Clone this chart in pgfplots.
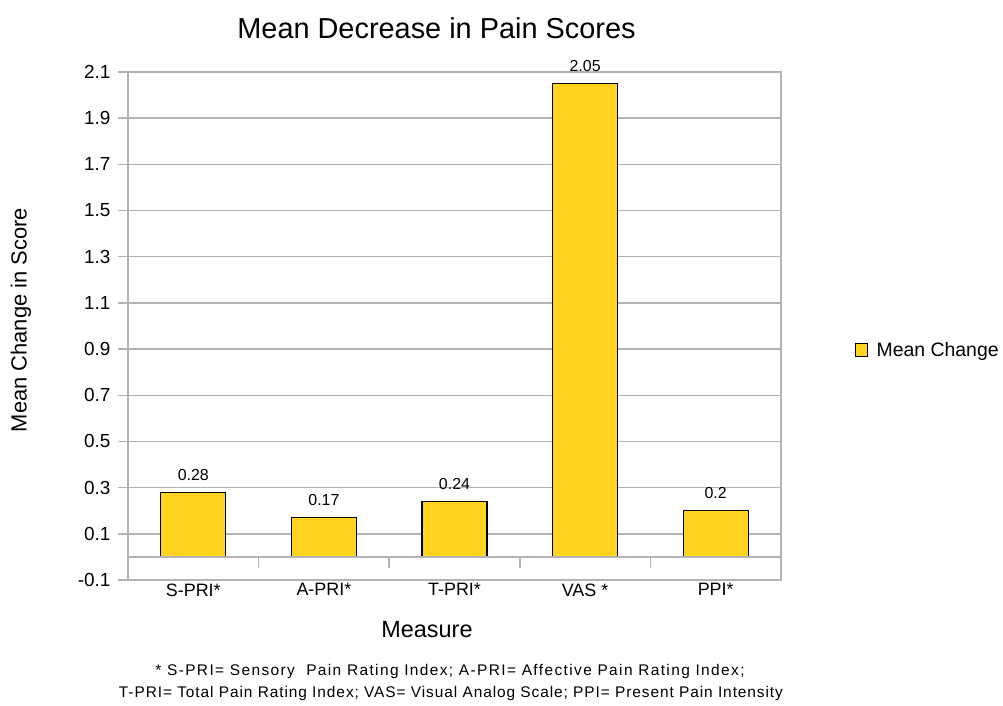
\documentclass[border=0pt]{standalone}
\usepackage{fontspec}
\setmainfont{Liberation Sans}
\usepackage{pgfplots}
\pgfplotsset{compat=1.18}
\definecolor{baryellow}{HTML}{FFD320}
\definecolor{gridgray}{HTML}{B3B3B3}
\newcommand{\fs}[1]{\fontsize{#1}{#1}\selectfont}

\begin{document}
\begin{tikzpicture}[x=1bp,y=1bp]
\useasboundingbox (0,0) rectangle (1003,706);
\begin{axis}[
  at={(128bp,126bp)}, anchor=south west,
  scale only axis, width=653bp, height=508bp,
  xmin=-0.5, xmax=4.5, ymin=-0.1, ymax=2.1,
  xtick={0,1,2,3,4},
  xticklabels={S-PRI*,A-PRI*,T-PRI*,VAS *,PPI*},
  x tick style={draw=none},
  xticklabel style={font=\fs{18}, yshift=10bp},
  ytick={-0.1,0.1,0.3,0.5,0.7,0.9,1.1,1.3,1.5,1.7,1.9,2.1},
  yticklabels={-0.1,0.1,0.3,0.5,0.7,0.9,1.1,1.3,1.5,1.7,1.9,2.1},
  yticklabel style={font=\fs{19}, xshift=-4bp},
  ytick pos=left, tick align=outside, major tick length=10bp,
  ytick style={gridgray, line width=1.5bp},
  ymajorgrids, grid style={gridgray, line width=1.5bp},
  axis line style={gridgray, line width=1.8bp},
  clip=false,
  legend style={at={(1.113,0.453)}, anchor=west, draw=none, fill=none,
    inner sep=0pt, font=\fs{19.5}},
  legend image code/.code={\path[draw=none, fill=none] (0bp,0bp) -- (19bp,0bp);
    \draw[#1] (0bp,-6.5bp) rectangle (12bp,6.5bp);},
  /pgf/number format/assume math mode=true,
]
\addplot[ybar, bar width=65bp, fill=baryellow, draw=black, line width=1.3bp,
  nodes near coords,
  nodes near coords style={font=\fs{16}, anchor=south, inner sep=0pt, yshift=11bp, text=black}]
  coordinates {(0,0.28) (1,0.17) (2,0.24) (3,2.05) (4,0.2)};
\addlegendentry{Mean Change}
% category axis at zero with separator ticks
\draw[gridgray, line width=1.8bp] (axis cs:-0.5,0) -- (axis cs:4.5,0);
\pgfplotsinvokeforeach{0.5,1.5,2.5,3.5}{
  \draw[gridgray, line width=1.5bp] (axis cs:#1,0) -- ([yshift=-11bp]axis cs:#1,0);
}
\end{axis}
\node[anchor=base, font=\fs{29}] at (436.5,667.7) {Mean Decrease in Pain Scores};
\node[anchor=base, font=\fs{23.5}] at (427,68.7) {Measure};
\node[rotate=90, font=\fs{22}] at (21,386) {Mean Change in Score};
\node[anchor=base, font=\fs{15.5}\addfontfeature{LetterSpace=9}] at (450,30) {* S-PRI= Sensory\ \ Pain Rating Index; A-PRI= Affective Pain Rating Index;};
\node[anchor=base, font=\fs{15.5}\addfontfeature{LetterSpace=6}] at (451,8.5) {T-PRI= Total Pain Rating Index; VAS= Visual Analog Scale; PPI= Present Pain Intensity};
\end{tikzpicture}
\end{document}
